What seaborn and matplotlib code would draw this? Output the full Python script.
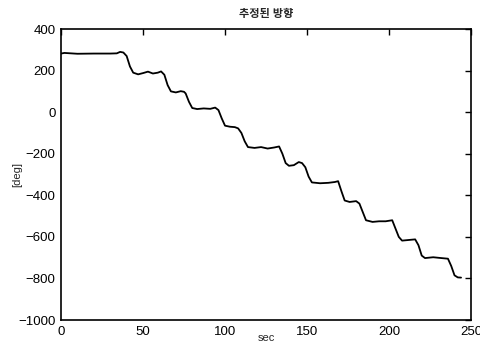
import numpy as np
import pandas as pd
import matplotlib
matplotlib.use("Agg")
import matplotlib.pyplot as plt
import seaborn as sns

# estimated heading (knot points of the trace)
time_sec = [0, 2, 10, 20, 30, 34, 36, 38, 40, 42, 44, 47, 50, 53, 56, 59, 61, 63, 65, 67,
            70, 73, 75, 76, 78, 80, 83, 87, 91, 94, 96, 98, 100, 103, 106, 108, 110, 112,
            114, 118, 122, 126, 130, 133, 135, 137, 139, 142, 145, 147, 149, 151, 153,
            158, 163, 167, 169, 171, 173, 176, 180, 182, 184, 186, 190, 194, 198, 202,
            204, 206, 208, 212, 216, 218, 220, 222, 227, 232, 236, 238, 240, 242, 244]
heading_deg = [282, 285, 281, 282, 282, 283, 290, 287, 270, 220, 190, 182, 188, 195, 186,
               190, 196, 180, 130, 100, 95, 101, 98, 90, 50, 20, 15, 18, 16, 22, 10, -30,
               -65, -70, -72, -78, -100, -140, -168, -172, -168, -175, -170, -165, -200,
               -245, -258, -255, -240, -245, -265, -310, -338, -342, -340, -336, -332,
               -380, -425, -432, -428, -440, -480, -520, -528, -525, -525, -520, -560,
               -600, -618, -615, -612, -640, -690, -702, -698, -702, -705, -740, -785,
               -795, -796]

title_text = "추정된 방향"
x_label = "sec"
y_label = "[deg]"

df = pd.DataFrame({"sec": time_sec, "deg": heading_deg})

sns.set_style("white")
plt.rcParams["font.family"] = ["Liberation Sans", "Noto Sans CJK KR", "DejaVu Sans"]

fig = plt.figure(figsize=(4.81, 3.54), dpi=100)
ax = fig.add_axes([0.127, 0.096, 0.852, 0.822])

sns.lineplot(data=df, x="sec", y="deg", color="black", linewidth=1.3, ax=ax)

ax.set_xlim(0, 250)
ax.set_ylim(-1000, 400)
ax.set_xticks([0, 50, 100, 150, 200, 250])
ax.set_yticks([-1000, -800, -600, -400, -200, 0, 200, 400])
ax.tick_params(direction="in", length=4, width=1, top=True, right=True,
               labelsize=9.5, colors="black", pad=4)
for s in ax.spines.values():
    s.set_color("black")
    s.set_linewidth(1.2)
    s.set_visible(True)

ax.set_title(title_text, fontsize=8, fontweight="bold", pad=9)
ax.set_xlabel(x_label, fontsize=8)
ax.set_ylabel(y_label, fontsize=8)
ax.xaxis.set_label_coords(0.5, -0.045)
ax.yaxis.set_label_coords(-0.095, 0.5)

fig.savefig("out.png", dpi=100)
